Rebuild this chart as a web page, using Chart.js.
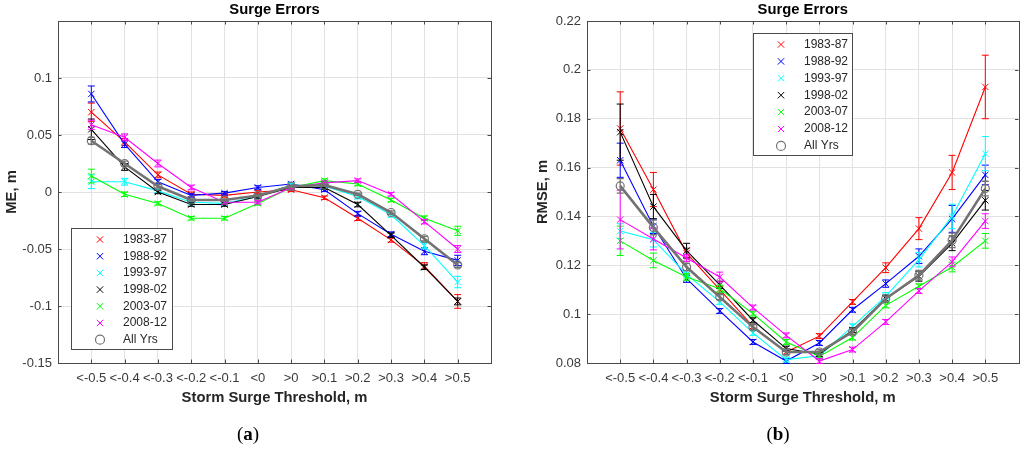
<!DOCTYPE html>
<html>
<head>
<meta charset="utf-8">
<script src="https://cdn.jsdelivr.net/npm/chart.js@4.4.1/dist/chart.umd.min.js"></script>
<style>
  html, body { margin: 0; padding: 0; background: #ffffff; }
  #wrap { position: relative; width: 1024px; height: 450px; overflow: hidden; }
  .pane { position: absolute; top: 0; width: 512px; height: 450px; }
</style>
</head>
<body>
<div id="wrap">
  <div class="pane" style="left:0"><canvas id="cA" width="512" height="450"></canvas></div>
  <div class="pane" style="left:512px"><canvas id="cB" width="512" height="450"></canvas></div>
</div>
<script>
// ---------- categories & labels ----------
const thresholds = ['<-0.5','<-0.4','<-0.3','<-0.2','<-0.1','<0','>0','>0.1','>0.2','>0.3','>0.4','>0.5'];
const periods = ['1983-87','1988-92','1993-97','1998-02','2003-07','2008-12','All Yrs'];
const colors = ['#ff0000','#0000ff','#00ffff','#000000','#00ff00','#ff00ff','#737373'];

const meTicks = [-0.15, -0.1, -0.05, 0, 0.05, 0.1];
const meTickLabels = ['-0.15','-0.1','-0.05','0','0.05','0.1'];
const rmTicks = [0.08, 0.1, 0.12, 0.14, 0.16, 0.18, 0.2, 0.22];
const rmTickLabels = ['0.08','0.1','0.12','0.14','0.16','0.18','0.2','0.22'];

// ---------- (a) ME values ----------
const me1983 = [0.070, 0.044, 0.015, -0.002, -0.003, 0.000, 0.002, -0.005, -0.023, -0.042, -0.065, -0.096];
const me1988 = [0.086, 0.042, 0.009, -0.003, -0.001, 0.004, 0.007, 0.002, -0.019, -0.037, -0.052, -0.060];
const me1993 = [0.009, 0.009, 0.001, -0.009, -0.010, -0.004, 0.006, 0.005, -0.004, -0.020, -0.047, -0.079];
const me1998 = [0.055, 0.022, 0.000, -0.011, -0.011, -0.004, 0.004, 0.004, -0.011, -0.038, -0.066, -0.096];
const me2003 = [0.014, -0.002, -0.010, -0.023, -0.023, -0.010, 0.004, 0.010, 0.007, -0.007, -0.023, -0.034];
const me2008 = [0.059, 0.048, 0.025, 0.004, -0.009, -0.009, 0.004, 0.008, 0.010, -0.002, -0.026, -0.050];
const meAll  = [0.045, 0.025, 0.005, -0.007, -0.007, -0.003, 0.005, 0.006, -0.002, -0.018, -0.041, -0.064];

const me1983Err = [0.008, 0.003, 0.0025, 0.002, 0.0015, 0.0015, 0.0015, 0.0015, 0.002, 0.002, 0.003, 0.006];
const me1988Err = [0.007, 0.003, 0.002, 0.0015, 0.0015, 0.0015, 0.0015, 0.0015, 0.002, 0.002, 0.003, 0.0045];
const me1993Err = [0.006, 0.003, 0.0015, 0.0015, 0.0015, 0.0015, 0.0015, 0.0015, 0.002, 0.002, 0.003, 0.005];
const me1998Err = [0.009, 0.003, 0.0015, 0.0015, 0.0015, 0.0015, 0.0015, 0.0015, 0.002, 0.002, 0.002, 0.003];
const me2003Err = [0.006, 0.002, 0.0015, 0.0015, 0.0015, 0.0015, 0.0015, 0.0015, 0.0015, 0.0015, 0.002, 0.004];
const me2008Err = [0.004, 0.003, 0.003, 0.002, 0.0015, 0.0015, 0.0015, 0.0015, 0.0015, 0.0015, 0.002, 0.003];
const meAllErr  = [0.003, 0.002, 0.0015, 0.001, 0.001, 0.001, 0.001, 0.001, 0.001, 0.0015, 0.002, 0.002];

// ---------- (b) RMSE values ----------
const rm1983 = [0.176, 0.151, 0.125, 0.110, 0.095, 0.0845, 0.091, 0.105, 0.119, 0.135, 0.158, 0.193];
const rm1988 = [0.163, 0.136, 0.1145, 0.1013, 0.0886, 0.0808, 0.0882, 0.1018, 0.1125, 0.1237, 0.139, 0.157];
const rm1993 = [0.134, 0.1305, 0.1163, 0.105, 0.0923, 0.0814, 0.083, 0.095, 0.1073, 0.1223, 0.140, 0.1657];
const rm1998 = [0.1745, 0.144, 0.126, 0.112, 0.0975, 0.0859, 0.0836, 0.0934, 0.1063, 0.1155, 0.129, 0.1466];
const rm2003 = [0.130, 0.122, 0.1152, 0.1104, 0.1002, 0.0886, 0.0827, 0.0904, 0.1036, 0.1114, 0.1193, 0.130];
const rm2008 = [0.1387, 0.1308, 0.123, 0.1152, 0.1027, 0.0913, 0.0808, 0.0855, 0.0968, 0.1095, 0.1214, 0.1381];
const rmAll  = [0.1525, 0.1355, 0.1193, 0.107, 0.0947, 0.0845, 0.0845, 0.0927, 0.1063, 0.1159, 0.1302, 0.1514];

const rm1983Err = [0.015, 0.007, 0.002, 0.0015, 0.001, 0.001, 0.001, 0.001, 0.002, 0.0045, 0.007, 0.013];
const rm1988Err = [0.007, 0.003, 0.0015, 0.001, 0.001, 0.001, 0.001, 0.001, 0.0015, 0.003, 0.0055, 0.004];
const rm1993Err = [0.003, 0.003, 0.0015, 0.001, 0.001, 0.001, 0.001, 0.001, 0.0015, 0.003, 0.005, 0.007];
const rm1998Err = [0.0115, 0.005, 0.003, 0.0015, 0.001, 0.001, 0.001, 0.001, 0.0015, 0.002, 0.003, 0.004];
const rm2003Err = [0.006, 0.003, 0.0015, 0.0015, 0.001, 0.001, 0.001, 0.001, 0.001, 0.001, 0.002, 0.003];
const rm2008Err = [0.012, 0.0045, 0.0015, 0.002, 0.001, 0.001, 0.001, 0.001, 0.001, 0.001, 0.002, 0.003];
const rmAllErr  = [0.003, 0.003, 0.0015, 0.001, 0.001, 0.001, 0.001, 0.001, 0.001, 0.002, 0.003, 0.003];

const FONT = '"Liberation Sans", Arial, Helvetica, sans-serif';

function makeDatasets(valueSets, errSets) {
  return valueSets.map((vals, k) => {
    const isAll = k === valueSets.length - 1;
    return {
      label: periods[k],
      data: vals.map((v, i) => ({ x: i, y: v })),
      errors: errSets[k],
      borderColor: colors[k],
      backgroundColor: 'rgba(0,0,0,0)',
      borderWidth: isAll ? 2.6 : 1.1,
      pointStyle: isAll ? 'circle' : 'crossRot',
      pointRadius: isAll ? 4 : 4.5,
      pointBorderWidth: isAll ? 1.2 : 1,
      pointBorderColor: colors[k],
      pointBackgroundColor: 'rgba(0,0,0,0)',
      tension: 0,
      fill: false,
      order: valueSets.length - 1 - k
    };
  });
}

// error bars, drawn with each dataset
const errorBarPlugin = {
  id: 'errorBars',
  afterDatasetDraw(chart, args) {
    const ds = chart.data.datasets[args.index];
    if (!ds.errors) return;
    const ctx = chart.ctx, xs = chart.scales.x, ys = chart.scales.y;
    ctx.save();
    ctx.strokeStyle = ds.borderColor;
    ctx.lineWidth = ds.pointStyle === 'circle' ? 1.3 : 1;
    ds.data.forEach((p, i) => {
      const e = ds.errors[i];
      const x = xs.getPixelForValue(p.x);
      const y1 = ys.getPixelForValue(p.y + e);
      const y2 = ys.getPixelForValue(p.y - e);
      const c = 3.5;
      ctx.beginPath();
      ctx.moveTo(x, y1); ctx.lineTo(x, y2);
      ctx.moveTo(x - c, y1); ctx.lineTo(x + c, y1);
      ctx.moveTo(x - c, y2); ctx.lineTo(x + c, y2);
      ctx.stroke();
    });
    ctx.restore();
  }
};

// axes box with inward ticks (MATLAB style)
const boxPlugin = {
  id: 'matBox',
  beforeDatasetsDraw(chart) {
    const { ctx, chartArea: a } = chart;
    const xs = chart.scales.x, ys = chart.scales.y;
    ctx.save();
    ctx.strokeStyle = '#4a4a4a';
    ctx.lineWidth = 1;
    ctx.strokeRect(Math.round(a.left) + 0.5, Math.round(a.top) + 0.5, Math.round(a.right - a.left), Math.round(a.bottom - a.top));
    const L = 3.5;
    ctx.beginPath();
    xs.ticks.forEach(t => {
      const x = Math.round(xs.getPixelForValue(t.value)) + 0.5;
      ctx.moveTo(x, a.bottom); ctx.lineTo(x, a.bottom - L);
      ctx.moveTo(x, a.top); ctx.lineTo(x, a.top + L);
    });
    ys.ticks.forEach(t => {
      const y = Math.round(ys.getPixelForValue(t.value)) + 0.5;
      ctx.moveTo(a.left, y); ctx.lineTo(a.left + L, y);
      ctx.moveTo(a.right, y); ctx.lineTo(a.right - L, y);
    });
    ctx.stroke();
    ctx.restore();
  }
};

// title, in-plot legend and caption
const decorPlugin = {
  id: 'decor',
  afterDraw(chart, args, opts) {
    const { ctx, chartArea: a } = chart;
    ctx.save();
    // title
    ctx.fillStyle = '#000000';
    ctx.font = 'bold 14.8px ' + FONT;
    ctx.textAlign = 'center';
    ctx.textBaseline = 'middle';
    ctx.fillText(opts.title, (a.left + a.right) / 2, 9.5);

    // legend
    const lg = opts.legend;
    const bx = a.left + lg.dx, by = lg.fromBottom ? a.bottom - lg.dy - lg.h : a.top + lg.dy;
    ctx.fillStyle = '#ffffff';
    ctx.fillRect(bx, by, lg.w, lg.h);
    ctx.strokeStyle = '#4a4a4a';
    ctx.lineWidth = 1;
    ctx.strokeRect(Math.round(bx) + 0.5, Math.round(by) + 0.5, lg.w, lg.h);
    ctx.textAlign = 'left';
    ctx.textBaseline = 'middle';
    chart.data.datasets.forEach((ds, k) => {
      const y = by + lg.first + k * lg.step;
      ctx.strokeStyle = ds.borderColor;
      ctx.fillStyle = 'rgba(0,0,0,0)';
      ctx.lineWidth = ds.pointBorderWidth;
      Chart.helpers.drawPoint(ctx, { pointStyle: ds.pointStyle, radius: 4.5, borderWidth: ds.pointBorderWidth, rotation: 0 }, bx + lg.mx, y);
      ctx.font = '12px ' + FONT;
      ctx.fillStyle = '#262626';
      ctx.fillText(ds.label, bx + lg.tx, y);
    });

    // caption
    ctx.fillStyle = '#000000';
    ctx.textBaseline = 'middle';
    ctx.textAlign = 'left';
    const cx = opts.captionX;
    const fReg = '19px "Liberation Serif", "Times New Roman", serif';
    const fBold = 'bold 19px "Liberation Serif", "Times New Roman", serif';
    ctx.font = fReg; const w1 = ctx.measureText('(').width;
    ctx.font = fBold; const w2 = ctx.measureText(opts.caption).width;
    ctx.font = fReg; const w3 = ctx.measureText(')').width;
    let x0 = cx - (w1 + w2 + w3) / 2;
    ctx.font = fReg; ctx.fillText('(', x0, 435);
    ctx.font = fBold; ctx.fillText(opts.caption, x0 + w1, 435);
    ctx.font = fReg; ctx.fillText(')', x0 + w1 + w2, 435);
    ctx.restore();
  }
};

function buildChart(canvasId, cfg) {
  return new Chart(document.getElementById(canvasId), {
    type: 'line',
    data: { datasets: makeDatasets(cfg.values, cfg.errors) },
    options: {
      responsive: false,
      animation: false,
      events: [],
      layout: { padding: { left: 0, right: cfg.padRight, top: 21, bottom: 0 } },
      plugins: {
        legend: { display: false },
        tooltip: { enabled: false },
        title: { display: false },
        decor: cfg.decor
      },
      scales: {
        x: {
          type: 'linear',
          min: -1,
          max: 12,
          afterBuildTicks: s => { s.ticks = thresholds.map((_, i) => ({ value: i })); },
          afterFit: s => { s.height = 87; },
          ticks: {
            autoSkip: false,
            maxRotation: 0,
            minRotation: 0,
            padding: 8,
            color: '#3a3a3a',
            font: { family: FONT, size: 13 },
            callback: v => thresholds[v]
          },
          grid: { color: '#e2e2e2', lineWidth: 1, drawTicks: false },
          border: { display: false },
          title: {
            display: true,
            text: 'Storm Surge Threshold, m',
            color: '#262626',
            font: { family: FONT, size: 14.8, weight: 'bold' },
            padding: { top: 0, bottom: 43.5 }
          }
        },
        y: {
          type: 'linear',
          min: cfg.yMin,
          max: cfg.yMax,
          afterBuildTicks: s => { s.ticks = cfg.yTicks.map(v => ({ value: v })); },
          afterFit: s => { s.width = cfg.yWidth; },
          ticks: {
            padding: 6,
            color: '#3a3a3a',
            font: { family: FONT, size: 13 },
            callback: (v, i) => cfg.yTickLabels[i]
          },
          grid: { color: '#e2e2e2', lineWidth: 1, drawTicks: false },
          border: { display: false },
          title: {
            display: true,
            text: cfg.yTitle,
            color: '#262626',
            font: { family: FONT, size: 14.8, weight: 'bold' },
            padding: { top: cfg.yTitlePad, bottom: 0 }
          }
        }
      }
    },
    plugins: [boxPlugin, errorBarPlugin, decorPlugin]
  });
}

buildChart('cA', {
  values: [me1983, me1988, me1993, me1998, me2003, me2008, meAll],
  errors: [me1983Err, me1988Err, me1993Err, me1998Err, me2003Err, me2008Err, meAllErr],
  yMin: -0.15, yMax: 0.15,
  yTicks: meTicks, yTickLabels: meTickLabels,
  yWidth: 58, padRight: 21, yTitle: 'ME, m', yTitlePad: 3.3,
  decor: {
    title: 'Surge Errors',
    legend: { dx: 13, dy: 14, fromBottom: true, w: 101, h: 121, first: 11.5, step: 16.7, mx: 29, tx: 52 },
    caption: 'a', captionX: 248
  }
});

buildChart('cB', {
  values: [rm1983, rm1988, rm1993, rm1998, rm2003, rm2008, rmAll],
  errors: [rm1983Err, rm1988Err, rm1993Err, rm1998Err, rm2003Err, rm2008Err, rmAllErr],
  yMin: 0.08, yMax: 0.22,
  yTicks: rmTicks, yTickLabels: rmTickLabels,
  yWidth: 75, padRight: 5, yTitle: 'RMSE, m', yTitlePad: 22.3,
  decor: {
    title: 'Surge Errors',
    legend: { dx: 166, dy: 12, fromBottom: false, w: 99, h: 122, first: 11.5, step: 16.9, mx: 28, tx: 51 },
    caption: 'b', captionX: 266
  }
});
</script>
</body>
</html>
